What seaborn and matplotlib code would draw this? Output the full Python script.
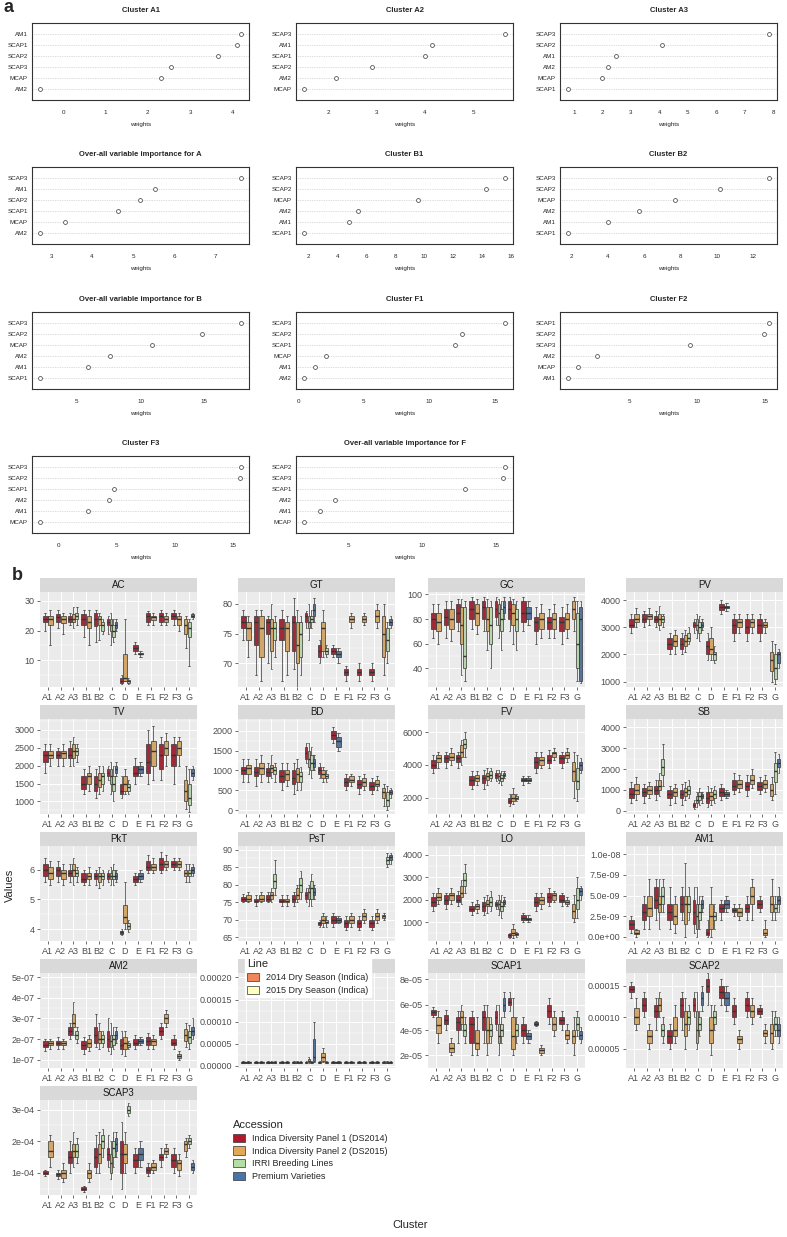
import numpy as np
import pandas as pd
import matplotlib
matplotlib.use("Agg")
import matplotlib.pyplot as plt
import seaborn as sns
from matplotlib.patches import Patch
from matplotlib.ticker import AutoMinorLocator

sns.set_style("white")
plt.rcParams["font.family"] = ["Liberation Sans", "DejaVu Sans"]

W, H = 787, 1237
fig = plt.figure(figsize=(W / 100, H / 100), dpi=100)


def px_axes(x0, y0, w, h):
    # place an axes using pixel coords measured from the top-left corner
    return fig.add_axes([x0 / W, 1 - (y0 + h) / H, w / W, h / H])


# ---------------- part a : variable importance dot charts ----------------
a_titles = ["Cluster A1", "Cluster A2", "Cluster A3",
            "Over-all variable importance for A", "Cluster B1", "Cluster B2",
            "Over-all variable importance for B", "Cluster F1", "Cluster F2",
            "Cluster F3", "Over-all variable importance for F"]
a_vars = [["AM1", "SCAP1", "SCAP2", "SCAP3", "MCAP", "AM2"],
          ["SCAP3", "AM1", "SCAP1", "SCAP2", "AM2", "MCAP"],
          ["SCAP3", "SCAP2", "AM1", "AM2", "MCAP", "SCAP1"],
          ["SCAP3", "AM1", "SCAP2", "SCAP1", "MCAP", "AM2"],
          ["SCAP3", "SCAP2", "MCAP", "AM2", "AM1", "SCAP1"],
          ["SCAP3", "SCAP2", "MCAP", "AM2", "AM1", "SCAP1"],
          ["SCAP3", "SCAP2", "MCAP", "AM2", "AM1", "SCAP1"],
          ["SCAP3", "SCAP2", "SCAP1", "MCAP", "AM1", "AM2"],
          ["SCAP1", "SCAP2", "SCAP3", "AM2", "MCAP", "AM1"],
          ["SCAP3", "SCAP2", "SCAP1", "AM2", "AM1", "MCAP"],
          ["SCAP2", "SCAP3", "SCAP1", "AM2", "AM1", "MCAP"]]
a_weights = [[4.2, 4.1, 3.65, 2.55, 2.3, -0.55],
             [5.65, 4.15, 4.0, 2.9, 2.15, 1.5],
             [7.85, 4.1, 2.5, 2.2, 2.0, 0.8],
             [7.63, 5.54, 5.17, 4.63, 3.34, 2.73],
             [15.6, 14.3, 9.6, 5.4, 4.8, 1.7],
             [12.9, 10.2, 7.7, 5.7, 4.0, 1.8],
             [17.9, 14.8, 10.9, 7.6, 5.9, 2.1],
             [15.8, 12.5, 12.0, 2.1, 1.3, 0.45],
             [15.3, 14.9, 9.5, 2.6, 1.2, 0.5],
             [15.7, 15.6, 4.8, 4.3, 2.5, -1.6],
             [15.6, 15.5, 12.9, 4.1, 3.1, 2.0]]
a_ticks = [[0, 1, 2, 3, 4], [2, 3, 4, 5], [1, 2, 3, 4, 5, 6, 7, 8],
           [3, 4, 5, 6, 7], [2, 4, 6, 8, 10, 12, 14, 16],
           [2, 4, 6, 8, 10, 12], [5, 10, 15], [0, 5, 10, 15],
           [5, 10, 15], [0, 5, 10, 15], [5, 10, 15]]

a_rows_top = [23, 167, 312, 456]
a_cols_left = [32, 296, 560]

for k, title in enumerate(a_titles):
    r, c = divmod(k, 3)
    ax = px_axes(a_cols_left[c], a_rows_top[r], 217, 77)
    d = pd.DataFrame({"var": a_vars[k], "weights": a_weights[k]})
    for yy in range(len(d)):
        ax.axhline(yy, color="#BBBBBB", lw=0.5, ls=(0, (1, 1.5)), zorder=0)
    sns.stripplot(data=d, x="weights", y="var", order=a_vars[k], jitter=False,
                  size=2.8, color="white", edgecolor="#555555", linewidth=0.6,
                  ax=ax, zorder=3)
    lo, hi = min(a_weights[k]), max(a_weights[k])
    pad = 0.04 * (hi - lo)
    ax.set_xlim(lo - pad, hi + pad)
    ax.set_ylim(len(d), -1)
    ax.set_xticks(a_ticks[k])
    ax.tick_params(axis="x", labelsize=4.5, length=2.5, width=0.6, pad=5)
    ax.tick_params(axis="y", labelsize=4.5, length=0, pad=3)
    ax.set_ylabel("")
    ax.set_xlabel("weights", fontsize=4.5, labelpad=5)
    ax.set_title(title, fontsize=5.5, fontweight="bold", pad=8)
    ax.grid(False)
    for s in ax.spines.values():
        s.set_visible(True)
        s.set_color("#333333")
        s.set_linewidth(0.8)

fig.text(3 / W, 1 - 8 / H, "a", fontsize=13, fontweight="bold", va="center")

# ---------------- part b : boxplots by cluster ----------------
clusters = ["A1", "A2", "A3", "B1", "B2", "C", "D", "E", "F1", "F2", "F3", "G"]
accessions = ["Indica Diversity Panel 1 (DS2014)",
              "Indica Diversity Panel 2 (DS2015)",
              "IRRI Breeding Lines", "Premium Varieties"]
acc_colors = ["#B2182B", "#E3A857", "#B5DDA4", "#4B72A9"]
# which accession groups are present in each cluster (index into accessions)
members = [[0, 1], [0, 1], [0, 1, 2], [0, 1], [0, 1, 2], [0, 1, 2, 3],
           [0, 1, 2], [0, 3], [0, 1], [0, 1], [0, 1], [1, 2, 3]]

traits = ["AC", "GT", "GC", "PV", "TV", "BD", "FV", "SB", "PkT", "PsT", "LO",
          "AM1", "AM2", "MCAP", "SCAP1", "SCAP2", "SCAP3"]

# five-number summaries (whisker low, Q1, median, Q3, whisker high),
# one per box in cluster order, accessions as listed in `members`
ac_boxes = [(20, 23, 24, 25, 26), (15, 22, 24, 25, 27),
            (21, 23, 24.5, 25.5, 27), (19, 22.5, 24, 25, 26),
            (22, 23, 24, 25, 26), (21, 23, 24, 25.5, 28), (22, 24, 25, 26, 28),
            (18, 22, 24, 25.5, 27), (15, 21, 23, 25, 27),
            (16, 21.5, 24, 26, 27), (17, 22, 24, 25, 26), (19, 20, 22, 23, 24),
            (19, 22, 23, 24, 25), (15, 20, 22, 24, 26), (16, 18, 20, 22, 24), (20, 21, 22, 23, 24),
            (2, 2.5, 3, 4, 5), (3, 3, 4, 12, 24), (2, 2.5, 3, 3.5, 4),
            (12, 13, 14, 15, 16), (11, 12, 12, 12.5, 13),
            (22, 23, 25, 26, 26.5), (22, 23.5, 24.5, 25, 26),
            (22, 23, 25, 26, 27), (22, 23, 24, 25, 26),
            (22, 24, 25, 26, 27), (20, 22, 24, 25, 26),
            (14, 19, 22, 24, 25), (8, 18, 21, 23, 24), (24, 24.5, 25, 25.5, 26)]
gt_boxes = [(74, 76, 77, 78, 79), (71, 74, 76, 77, 78),
            (68, 73, 77, 78, 79), (67, 71, 76, 78, 79),
            (70, 75, 77, 77.5, 78), (69, 72, 76, 77.5, 80), (71, 74, 76, 77, 78),
            (67, 74, 76, 77.5, 79), (68, 72, 76, 77, 78),
            (69, 72, 77, 78, 81), (66, 70, 73, 77, 79), (68, 71, 75, 77, 78),
            (76, 77, 78, 78.5, 78.8), (74, 76, 77, 78, 80), (76, 77, 77.5, 78, 79), (77, 78, 79, 80, 81),
            (70, 71, 72, 73, 74), (71, 72, 76, 77, 79), (71, 71.5, 72, 72.5, 73),
            (71, 71.5, 72, 72.5, 73), (70, 71, 71.5, 72, 72.5),
            (67, 68, 68.5, 69, 69.5), (76, 77, 77.5, 78, 78.5),
            (67, 68, 68.5, 69, 70), (76.5, 77, 77.5, 78, 78.5),
            (67, 68, 68.5, 69, 70), (76, 77, 78, 79, 80),
            (68, 71, 75, 78, 80), (70, 72, 74, 76, 77), (76, 76.5, 77, 77.5, 78)]
gc_boxes = [(65, 72, 80, 85, 92), (60, 70, 78, 85, 92),
            (65, 75, 82, 88, 95), (62, 72, 80, 88, 95),
            (70, 78, 85, 92, 96), (35, 60, 75, 90, 96), (30, 40, 50, 90, 95),
            (72, 80, 88, 95, 98), (68, 75, 85, 92, 96),
            (70, 80, 90, 95, 98), (55, 70, 80, 90, 96), (40, 60, 75, 90, 95),
            (75, 82, 88, 95, 98), (65, 75, 85, 92, 96), (55, 70, 80, 88, 95), (80, 85, 90, 95, 98),
            (70, 80, 88, 95, 98), (60, 75, 85, 92, 96), (55, 70, 80, 88, 95),
            (70, 78, 85, 95, 98), (75, 80, 85, 90, 95),
            (60, 70, 78, 82, 90), (65, 72, 80, 85, 92),
            (65, 72, 78, 82, 88), (65, 72, 80, 85, 92),
            (60, 70, 78, 82, 90), (65, 72, 80, 85, 92),
            (70, 80, 88, 95, 98), (30, 40, 60, 85, 95), (28, 30, 80, 90, 95)]
pv_boxes = [(2800, 3000, 3100, 3300, 3500), (3000, 3200, 3300, 3500, 3700),
            (3000, 3200, 3300, 3500, 3600), (3100, 3300, 3400, 3500, 3700),
            (3000, 3200, 3300, 3400, 3600), (2900, 3100, 3300, 3500, 3800), (3000, 3200, 3300, 3400, 3500),
            (2000, 2200, 2400, 2600, 2800), (2000, 2300, 2500, 2700, 2900),
            (2000, 2200, 2400, 2600, 2800), (2100, 2300, 2500, 2700, 2900), (2400, 2500, 2600, 2800, 3000),
            (2800, 3000, 3100, 3200, 3300), (2600, 2900, 3100, 3300, 3500), (2500, 2800, 3000, 3200, 3400), (2900, 3000, 3100, 3200, 3300),
            (1800, 2000, 2300, 2500, 2800), (1800, 2000, 2200, 2600, 3000), (1700, 1800, 2000, 2100, 2300),
            (3500, 3650, 3750, 3850, 4000), (3600, 3700, 3750, 3800, 3900),
            (2500, 2800, 3100, 3300, 3500), (2800, 3000, 3200, 3300, 3500),
            (2500, 2800, 3000, 3300, 3500), (2800, 3000, 3200, 3300, 3500),
            (2500, 2800, 3100, 3300, 3500), (2800, 3000, 3100, 3200, 3300),
            (1000, 1400, 1800, 2100, 2500), (900, 1100, 1500, 2000, 2400), (1500, 1700, 2000, 2100, 2200)]
tv_boxes = [(1800, 2100, 2300, 2400, 2600), (2000, 2200, 2300, 2400, 2600),
            (2000, 2200, 2300, 2400, 2500), (2000, 2200, 2350, 2400, 2600),
            (2000, 2200, 2300, 2500, 2700), (2000, 2200, 2400, 2600, 2800), (2100, 2300, 2400, 2500, 2600),
            (1200, 1350, 1500, 1700, 1900), (1300, 1500, 1700, 1800, 2000),
            (1100, 1300, 1500, 1700, 1900), (1200, 1400, 1600, 1800, 2000), (1300, 1500, 1700, 1800, 2000),
            (1600, 1700, 1800, 1900, 2000), (1200, 1500, 1700, 1900, 2100), (1000, 1300, 1500, 1700, 2000), (1700, 1800, 1900, 2000, 2100),
            (1100, 1200, 1300, 1500, 1700), (1200, 1300, 1500, 1700, 1900), (1200, 1300, 1400, 1500, 1600),
            (1500, 1700, 1800, 2000, 2200), (1700, 1800, 1900, 2000, 2100),
            (1500, 1800, 2100, 2600, 3000), (1600, 2000, 2400, 2700, 3100),
            (1600, 1900, 2300, 2600, 2800), (2000, 2300, 2500, 2700, 2900),
            (1500, 2000, 2300, 2600, 2800), (2000, 2300, 2500, 2700, 2800),
            (800, 1000, 1300, 1600, 2000), (700, 900, 1100, 1500, 1900), (1600, 1700, 1800, 1900, 2000)]
bd_boxes = [(700, 900, 1000, 1100, 1300), (700, 900, 1050, 1150, 1300),
            (600, 850, 950, 1100, 1300), (700, 900, 1050, 1200, 1400),
            (700, 850, 950, 1050, 1200), (800, 950, 1050, 1150, 1400), (700, 900, 1000, 1100, 1200),
            (500, 700, 850, 1000, 1200), (600, 750, 900, 1000, 1200),
            (400, 650, 800, 1000, 1200), (500, 700, 900, 1050, 1300), (500, 700, 850, 950, 1100),
            (1200, 1300, 1450, 1600, 1700), (900, 1100, 1300, 1500, 1700), (800, 1000, 1200, 1400, 1600), (1000, 1100, 1200, 1300, 1400),
            (800, 900, 1000, 1100, 1200), (700, 800, 900, 1000, 1100), (700, 800, 850, 900, 1000),
            (1700, 1800, 1900, 2000, 2100), (1500, 1600, 1750, 1850, 1950),
            (500, 600, 700, 800, 900), (600, 700, 750, 850, 900),
            (400, 550, 650, 750, 850), (500, 600, 700, 800, 900),
            (400, 500, 600, 700, 800), (500, 600, 650, 750, 850),
            (100, 300, 450, 550, 650), (0, 100, 250, 450, 600), (300, 400, 450, 500, 550)]
fv_boxes = [(3500, 3800, 4000, 4300, 4600), (3800, 4200, 4400, 4600, 4800),
            (3800, 4200, 4400, 4600, 4800), (4000, 4300, 4500, 4700, 5000),
            (3800, 4200, 4400, 4600, 4800), (4000, 4500, 4800, 5200, 5500), (4500, 5000, 5300, 5600, 6000),
            (2500, 2800, 3100, 3300, 3600), (2800, 3000, 3200, 3400, 3600),
            (2500, 2900, 3200, 3400, 3700), (2800, 3100, 3300, 3500, 3800), (3000, 3200, 3400, 3600, 3800),
            (3000, 3200, 3400, 3500, 3700), (2900, 3100, 3300, 3500, 3700), (2800, 3000, 3200, 3400, 3600), (3200, 3300, 3400, 3500, 3600),
            (1500, 1700, 1800, 2000, 2200), (1600, 1800, 2000, 2200, 2600), (1800, 1900, 2000, 2100, 2200),
            (2800, 3000, 3100, 3200, 3300), (2900, 3000, 3100, 3200, 3300),
            (3500, 3800, 4200, 4500, 4800), (3800, 4000, 4300, 4500, 4800),
            (3800, 4100, 4300, 4600, 4900), (4300, 4500, 4700, 4800, 5000),
            (3800, 4100, 4400, 4600, 4800), (4200, 4400, 4600, 4800, 5000),
            (2000, 3000, 3600, 4200, 4800), (1800, 2500, 3000, 3800, 4600), (3500, 3700, 4000, 4200, 4400)]
sb_boxes = [(400, 600, 800, 1100, 1400), (500, 800, 1000, 1300, 1600),
            (400, 700, 900, 1100, 1300), (600, 800, 1000, 1200, 1400),
            (500, 800, 1000, 1200, 1500), (700, 1000, 1200, 1500, 1800), (1200, 1700, 2100, 2500, 3200),
            (300, 600, 800, 1000, 1200), (400, 700, 900, 1100, 1300),
            (300, 600, 800, 1000, 1300), (500, 700, 900, 1100, 1400), (600, 800, 1000, 1200, 1500),
            (100, 200, 300, 400, 500), (200, 400, 500, 700, 900), (300, 500, 700, 900, 1100), (400, 600, 700, 800, 900),
            (200, 400, 600, 900, 1200), (300, 500, 700, 900, 1100), (400, 600, 800, 1000, 1200),
            (500, 700, 900, 1100, 1300), (600, 700, 800, 900, 1000),
            (800, 1000, 1200, 1500, 1800), (900, 1100, 1300, 1500, 1700),
            (700, 1000, 1200, 1400, 1700), (1100, 1300, 1500, 1700, 2000),
            (800, 1000, 1200, 1400, 1600), (900, 1100, 1300, 1500, 1700),
            (500, 700, 1000, 1300, 1600), (800, 1400, 1900, 2300, 2800), (1800, 2100, 2300, 2500, 2700)]
pkt_boxes = [(5.6, 5.8, 6.0, 6.2, 6.4), (5.5, 5.7, 5.9, 6.1, 6.3),
             (5.6, 5.8, 6.0, 6.1, 6.3), (5.5, 5.7, 5.9, 6.0, 6.2),
             (5.6, 5.8, 5.9, 6.0, 6.2), (5.5, 5.8, 6.0, 6.2, 6.4), (5.6, 5.8, 5.9, 6.0, 6.1),
             (5.5, 5.6, 5.7, 5.9, 6.0), (5.5, 5.7, 5.8, 5.9, 6.1),
             (5.5, 5.7, 5.8, 5.9, 6.0), (5.4, 5.6, 5.8, 5.9, 6.1), (5.5, 5.7, 5.8, 5.9, 6.0),
             (5.6, 5.7, 5.8, 5.9, 6.0), (5.5, 5.7, 5.8, 5.9, 6.1), (5.5, 5.7, 5.8, 6.0, 6.2), (5.6, 5.7, 5.8, 5.9, 6.0),
             (3.8, 3.85, 3.9, 3.95, 4.0), (4.0, 4.2, 4.4, 4.8, 5.6), (3.9, 4.0, 4.1, 4.2, 4.3),
             (5.5, 5.6, 5.7, 5.8, 5.9), (5.6, 5.7, 5.8, 5.9, 6.0),
             (5.9, 6.0, 6.1, 6.3, 6.5), (5.9, 6.0, 6.1, 6.2, 6.4),
             (5.9, 6.0, 6.2, 6.4, 6.6), (6.0, 6.1, 6.2, 6.3, 6.5),
             (6.0, 6.1, 6.2, 6.3, 6.4), (6.0, 6.1, 6.2, 6.3, 6.4),
             (5.6, 5.8, 5.9, 6.0, 6.2), (5.6, 5.8, 5.9, 6.0, 6.2), (5.8, 5.9, 6.0, 6.1, 6.2)]
pst_boxes = [(75, 75.5, 76, 76.5, 77.5), (75, 75.5, 76, 77, 78),
             (74, 75, 75.5, 76, 77), (75, 75.5, 76, 77, 78),
             (75, 75.5, 76, 77, 78), (75, 76, 77, 78, 79), (77, 79, 81, 83, 87),
             (74, 75, 75.5, 76, 77), (74, 75, 75.5, 76, 77),
             (74, 75, 76, 77, 78), (75, 76, 77, 79, 80), (76, 78, 80, 82, 84),
             (75, 76, 77, 78, 79), (74, 76, 78, 79, 80), (74, 76, 79, 81, 83), (76, 77, 78, 79, 80),
             (68, 68.5, 69, 69.5, 70), (68, 69, 70, 71, 72), (68, 69, 69.5, 70, 71),
             (68, 69, 70, 71, 72), (69, 69.5, 70, 70.5, 71),
             (67, 68, 69, 70, 71), (68, 69, 70, 71, 72),
             (67, 68, 69, 70, 71), (69, 70, 71, 72, 73),
             (67, 68, 69, 70, 71), (69, 70, 71, 72, 73),
             (70, 70.5, 71, 71.5, 72), (85, 86, 87, 88, 89), (86, 87, 88, 88.5, 89)]
lo_boxes = [(1500, 1700, 1900, 2100, 2300), (1800, 2000, 2100, 2300, 2500),
            (1600, 1800, 2000, 2200, 2300), (1800, 2000, 2200, 2300, 2500),
            (1700, 1900, 2000, 2200, 2400), (1800, 2100, 2300, 2600, 2900), (2300, 2600, 2900, 3200, 3600),
            (1300, 1500, 1600, 1700, 1900), (1400, 1600, 1700, 1800, 2000),
            (1300, 1500, 1700, 1900, 2100), (1400, 1700, 1800, 2000, 2200), (1500, 1700, 1900, 2100, 2400),
            (1600, 1700, 1800, 1900, 2000), (1300, 1600, 1800, 2000, 2200), (1200, 1500, 1700, 1900, 2200), (1700, 1800, 1900, 2000, 2100),
            (300, 350, 400, 450, 500), (300, 400, 500, 700, 900), (350, 400, 450, 500, 550),
            (1000, 1100, 1200, 1300, 1400), (1000, 1100, 1150, 1200, 1300),
            (1500, 1700, 1900, 2100, 2300), (1600, 1800, 2000, 2100, 2300),
            (1700, 1900, 2100, 2300, 2500), (1900, 2000, 2200, 2300, 2400),
            (1700, 1900, 2000, 2200, 2300), (1700, 1800, 1900, 2000, 2100),
            (1000, 1200, 1500, 1800, 2200), (1200, 1600, 2000, 2500, 3000), (2000, 2200, 2400, 2500, 2600)]
am1_boxes = [(0.5, 1, 1.5, 2, 2.5), (0, 0.3, 0.5, 0.8, 1),
             (1, 2, 3, 4, 5), (1, 2.5, 3.5, 5, 7),
             (2, 3.5, 4.5, 6, 7), (1, 3, 4, 5, 7), (3, 4, 5, 6, 7),
             (1, 2, 3, 4, 6), (0.5, 1.5, 2.5, 4, 5),
             (2, 3, 4, 5, 6), (0, 1.5, 4, 5, 9), (2, 3, 4, 5, 6),
             (0.5, 1.5, 3, 4.5, 6), (0, 1, 2.5, 4, 6), (1, 2, 3, 4, 5), (3, 3.5, 4, 4.5, 5),
             (0, 0.2, 0.5, 1, 2), (0, 1, 2.5, 4, 6), (1, 2, 2.5, 3, 4),
             (2, 3, 3.5, 4, 4.5), (3, 3.5, 4, 4.5, 5),
             (2.5, 3, 3.2, 3.5, 4), (2, 2.5, 3, 3.5, 4),
             (2, 3, 3.5, 4, 5), (2, 4, 5, 6, 7),
             (3, 3.5, 4, 4.5, 5), (0, 0.2, 0.5, 1, 2),
             (2, 3, 4, 5, 7), (2, 3, 3.5, 4, 5), (3, 4, 4.5, 5, 6)]
am2_boxes = [(1.4, 1.6, 1.7, 1.9, 2.0), (1.5, 1.7, 1.8, 1.9, 2.0),
             (1.5, 1.7, 1.8, 1.9, 2.1), (1.5, 1.7, 1.8, 1.9, 2.0),
             (2.0, 2.2, 2.4, 2.6, 2.8), (2.2, 2.6, 2.8, 3.2, 3.8), (1.8, 2.0, 2.2, 2.4, 2.6),
             (1.3, 1.5, 1.7, 1.9, 2.1), (1.4, 1.6, 1.8, 2.0, 2.2),
             (1.6, 1.8, 2.2, 2.6, 3.2), (1.5, 1.8, 2.0, 2.4, 2.8), (1.6, 1.8, 2.0, 2.2, 2.4),
             (1.4, 1.6, 2.0, 2.4, 3.0), (1.3, 1.6, 1.9, 2.2, 2.8), (1.5, 1.7, 2.0, 2.2, 2.6), (1.8, 2.0, 2.2, 2.4, 2.6),
             (1.3, 1.5, 1.7, 2.0, 2.4), (1.2, 1.5, 1.8, 2.1, 2.4), (1.5, 1.6, 1.7, 1.8, 1.9),
             (1.5, 1.7, 1.8, 2.0, 2.2), (1.7, 1.8, 1.9, 2.0, 2.1),
             (1.5, 1.7, 1.9, 2.1, 2.3), (1.5, 1.7, 1.9, 2.0, 2.2),
             (2.0, 2.2, 2.4, 2.6, 2.8), (2.6, 2.8, 3.0, 3.2, 3.4),
             (1.5, 1.7, 1.8, 2.0, 2.2), (1.0, 1.1, 1.2, 1.3, 1.4),
             (1.6, 1.9, 2.2, 2.5, 2.8), (1.5, 1.8, 2.1, 2.4, 2.7), (2.0, 2.2, 2.4, 2.6, 3.0)]
mcap_boxes = [(0.6, 0.7, 0.8, 0.9, 1.0)] * 12 + \
             [(0.6, 0.7, 0.8, 0.9, 1.0), (0.7, 0.8, 1.0, 1.5, 2.0),
              (0.6, 0.7, 0.8, 0.9, 1.0), (0.8, 1.0, 2.0, 6.0, 10.0),
              (0.6, 0.7, 0.8, 0.9, 1.0), (0.8, 1.0, 2.0, 3.0, 4.0),
              (0.6, 0.7, 0.8, 0.9, 1.0)] + \
             [(0.6, 0.7, 0.8, 0.9, 1.0)] * 11
scap1_boxes = [(5, 5.2, 5.4, 5.6, 5.8), (3, 3.8, 4.4, 5, 5.5),
               (4, 4.5, 4.8, 5.2, 5.6), (2, 2.3, 2.6, 3, 3.4),
               (3, 4, 4.6, 5, 5.5), (4, 4.5, 5, 5.5, 6), (3, 3.5, 4, 4.5, 5),
               (2, 3, 4.5, 5, 5.5), (2, 2.5, 3, 4, 5),
               (3, 4, 5, 5.5, 6), (2, 3, 4, 5, 6), (3, 3.5, 4, 4.5, 5),
               (4, 4.5, 5, 5.5, 6), (2, 3, 3.5, 4.5, 6), (3, 3.5, 4, 4.5, 5), (5, 5.5, 6, 6.5, 7),
               (5.5, 6, 6.2, 6.5, 7), (2, 2.5, 3.5, 5, 6.5), (3, 3.5, 4, 4.5, 5),
               (3, 3.5, 4, 4.5, 5), (3, 3.3, 3.5, 3.8, 4),
               (4.3, 4.4, 4.5, 4.6, 4.7), (2, 2.2, 2.4, 2.6, 2.8),
               (4.5, 5, 5.5, 6, 6.5), (3.5, 4, 4.5, 5, 5.5),
               (4, 4.5, 4.8, 5, 5.5), (3, 3.3, 3.6, 4, 4.5),
               (2, 3, 3.5, 4, 5), (3.5, 4, 4.5, 5, 5.5), (3, 3.3, 3.6, 3.9, 4.2)]
scap2_boxes = [(13, 14, 14.5, 15, 15.5), (8, 9, 10, 11.5, 13),
               (10, 11, 12, 13, 14), (5, 6, 7, 8, 9),
               (8, 10, 11, 12, 13), (10, 11, 12, 13, 14), (6, 7, 8, 9, 10),
               (5, 6, 7, 8, 9), (6, 7, 8, 10, 12),
               (8, 10, 12, 13, 14), (5, 7, 9, 11, 13), (8, 9, 10, 11, 12),
               (10, 11, 12, 13, 14), (5, 6, 8, 11, 14), (7, 8, 9, 10, 11), (11, 12, 13, 14, 15),
               (12, 14, 15, 16, 17), (4, 6, 8, 10, 12), (8, 9, 10, 11, 12),
               (12, 13, 14, 15, 16), (11, 12, 13, 14, 15),
               (9, 10, 11, 12, 13), (5, 6, 6.5, 7, 8),
               (10, 11, 12, 13, 14), (9, 10, 11, 12, 13),
               (10, 10.5, 11, 11.5, 12), (6, 7, 7.5, 8, 9),
               (5, 6, 7.5, 9, 11), (7, 8, 9, 10, 11), (6, 7, 8, 9, 10)]
scap3_boxes = [(0.9, 0.95, 1.0, 1.05, 1.1), (1.2, 1.5, 1.7, 2.0, 2.2),
               (0.8, 0.9, 0.95, 1.0, 1.1), (0.7, 0.85, 1.0, 1.1, 1.3),
               (1.0, 1.3, 1.5, 1.7, 2.0), (1.2, 1.5, 1.7, 1.9, 2.3), (1.3, 1.5, 1.7, 1.9, 2.1),
               (0.4, 0.45, 0.5, 0.55, 0.6), (0.7, 0.85, 1.0, 1.1, 1.3),
               (1.0, 1.2, 1.5, 1.8, 2.2), (1.0, 1.3, 1.6, 1.9, 2.3), (1.5, 1.8, 2.0, 2.2, 2.4),
               (1.2, 1.4, 1.6, 1.8, 2.2), (0.8, 1.0, 1.3, 1.6, 2.0), (1.2, 1.5, 1.8, 2.0, 2.3), (1.5, 1.7, 1.9, 2.1, 2.3),
               (0.5, 1.0, 1.6, 2.0, 2.6), (1.0, 1.3, 1.6, 1.9, 2.3), (2.8, 2.9, 3.0, 3.1, 3.2),
               (1.0, 1.2, 1.4, 1.6, 1.8), (1.2, 1.4, 1.6, 1.8, 2.0),
               (0.9, 1.0, 1.1, 1.2, 1.3), (1.0, 1.1, 1.2, 1.3, 1.4),
               (1.2, 1.4, 1.5, 1.6, 1.8), (1.5, 1.6, 1.7, 1.8, 1.9),
               (1.0, 1.2, 1.4, 1.6, 1.8), (0.9, 1.1, 1.3, 1.4, 1.6),
               (1.5, 1.7, 1.9, 2.0, 2.1), (1.8, 1.9, 2.0, 2.1, 2.2), (1.0, 1.1, 1.2, 1.3, 1.4)]

box_data = {"AC": ac_boxes, "GT": gt_boxes, "GC": gc_boxes, "PV": pv_boxes,
            "TV": tv_boxes, "BD": bd_boxes, "FV": fv_boxes, "SB": sb_boxes,
            "PkT": pkt_boxes, "PsT": pst_boxes, "LO": lo_boxes,
            "AM1": am1_boxes, "AM2": am2_boxes, "MCAP": mcap_boxes,
            "SCAP1": scap1_boxes, "SCAP2": scap2_boxes, "SCAP3": scap3_boxes}
# unit of the numbers above
unit = {"AM1": 1e-9, "AM2": 1e-7, "MCAP": 1e-5, "SCAP1": 1e-5,
        "SCAP2": 1e-5, "SCAP3": 1e-4}

y_limits = {"AC": (1, 33), "GT": (66, 82), "GC": (25, 102),
            "PV": (800, 4300), "TV": (650, 3300), "BD": (-100, 2300),
            "FV": (1000, 6800), "SB": (-150, 4400), "PkT": (3.6, 6.8),
            "PsT": (64, 91), "LO": (150, 4400), "AM1": (-0.5, 11),
            "AM2": (0.6, 5.2), "MCAP": (-0.5, 21), "SCAP1": (1, 8.5),
            "SCAP2": (2, 17), "SCAP3": (0.3, 3.3)}
y_breaks = {"AC": [10, 20, 30], "GT": [70, 75, 80], "GC": [40, 60, 80, 100],
            "PV": [1000, 2000, 3000, 4000],
            "TV": [1000, 1500, 2000, 2500, 3000],
            "BD": [0, 500, 1000, 1500, 2000], "FV": [2000, 4000, 6000],
            "SB": [0, 1000, 2000, 3000, 4000], "PkT": [4, 5, 6],
            "PsT": [65, 70, 75, 80, 85, 90], "LO": [1000, 2000, 3000, 4000],
            "AM1": [0, 2.5, 5, 7.5, 10], "AM2": [1, 2, 3, 4, 5],
            "MCAP": [0, 5, 10, 15, 20], "SCAP1": [2, 4, 6, 8],
            "SCAP2": [5, 10, 15], "SCAP3": [1, 2, 3]}
y_labels = {"AM1": ["0.0e+00", "2.5e-09", "5.0e-09", "7.5e-09", "1.0e-08"],
            "AM2": ["1e-07", "2e-07", "3e-07", "4e-07", "5e-07"],
            "MCAP": ["0.00000", "0.00005", "0.00010", "0.00015", "0.00020"],
            "SCAP1": ["2e-05", "4e-05", "6e-05", "8e-05"],
            "SCAP2": ["0.00005", "0.00010", "0.00015"],
            "SCAP3": ["1e-04", "2e-04", "3e-04"]}

rows = []
for t in traits:
    i = 0
    for ci, cl in enumerate(clusters):
        for ai in members[ci]:
            for v in box_data[t][i]:
                rows.append((t, cl, accessions[ai], v * unit.get(t, 1)))
            i += 1
df = pd.DataFrame(rows, columns=["trait", "Cluster", "Accession", "Value"])

b_cols_left = [40, 238, 428, 626]
b_rows_top = [578, 705, 832, 959, 1086]
PW, STRIP, PH = 157, 14, 95

for k, t in enumerate(traits):
    r, c = divmod(k, 4)
    x0, y0 = b_cols_left[c], b_rows_top[r]
    sax = px_axes(x0, y0, PW, STRIP)
    sax.set_facecolor("#D9D9D9")
    sax.set_xticks([])
    sax.set_yticks([])
    for s in sax.spines.values():
        s.set_visible(False)
    sax.text(0.5, 0.5, t, ha="center", va="center", fontsize=7,
             color="#1A1A1A", transform=sax.transAxes)

    ax = px_axes(x0, y0 + STRIP, PW, PH)
    d = df[df.trait == t]
    for ci, cl in enumerate(clusters):
        sub = d[d.Cluster == cl]
        sns.boxplot(data=sub, x="Cluster", y="Value", hue="Accession",
                    order=clusters,
                    hue_order=[accessions[a] for a in members[ci]],
                    palette=[acc_colors[a] for a in members[ci]],
                    whis=(0, 100), width=0.8, gap=0.08, linewidth=0.5,
                    linecolor="#333333", fliersize=0, legend=False, ax=ax,
                    medianprops={"linewidth": 1.0})
    s = unit.get(t, 1)
    lo, hi = y_limits[t]
    ax.set_ylim(lo * s, hi * s)
    ax.set_yticks([b * s for b in y_breaks[t]])
    if t in y_labels:
        ax.set_yticklabels(y_labels[t])
    else:
        ax.set_yticklabels([str(b) for b in y_breaks[t]])
    ax.yaxis.set_minor_locator(AutoMinorLocator(2))
    ax.set_xlim(-0.6, 11.6)
    ax.set_facecolor("#EBEBEB")
    ax.set_axisbelow(True)
    ax.grid(True, which="major", color="white", lw=0.7)
    ax.grid(True, which="minor", axis="y", color="white", lw=0.35)
    for sp in ax.spines.values():
        sp.set_visible(False)
    ax.tick_params(axis="both", which="major", labelsize=6.5,
                   labelcolor="#4D4D4D", length=2.5, width=0.5,
                   color="#333333", pad=1.5)
    ax.tick_params(axis="y", which="minor", length=0)
    ax.tick_params(bottom=True, left=True)
    ax.set_xlabel("")
    ax.set_ylabel("")

fig.text(12 / W, 1 - 575 / H, "b", fontsize=13, fontweight="bold", va="center")
fig.text(10 / W, 1 - 885 / H, "Values", rotation=90, fontsize=8,
         ha="center", va="center")
fig.text(410 / W, 1 - 1225 / H, "Cluster", fontsize=8, ha="center",
         va="center")

# stray legend left over in the figure
line_labels = ["2014 Dry Season (Indica)", "2015 Dry Season (Indica)"]
line_colors = ["#F0875A", "#FFFFBF"]
leg1 = fig.legend(handles=[Patch(facecolor=c_, edgecolor="#333333", lw=0.5)
                           for c_ in line_colors],
                  labels=line_labels, title="Line", loc="upper left",
                  bbox_to_anchor=(240 / W, 1 - 952 / H), fontsize=6.5,
                  title_fontsize=8, frameon=True, facecolor="white",
                  edgecolor="white", framealpha=1, borderpad=0.3,
                  handlelength=1.3, handleheight=1.0, labelspacing=0.4,
                  alignment="left")

leg2 = fig.legend(handles=[Patch(facecolor=c_, edgecolor="#333333", lw=0.5)
                           for c_ in acc_colors],
                  labels=accessions, title="Accession", loc="upper left",
                  bbox_to_anchor=(225 / W, 1 - 1112 / H), fontsize=6.5,
                  title_fontsize=8, frameon=False, handlelength=1.3,
                  handleheight=1.0, labelspacing=0.4, alignment="left")

fig.savefig("out.png", dpi=100)
